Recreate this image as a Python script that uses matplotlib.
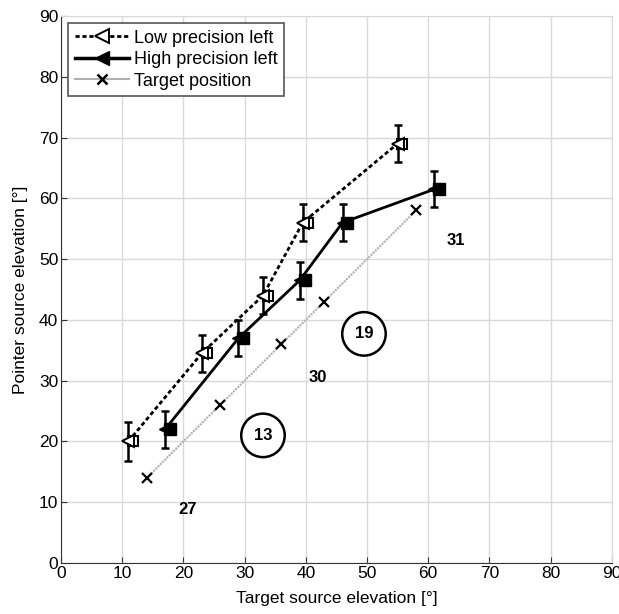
import matplotlib
matplotlib.use('Agg')
import matplotlib.pyplot as plt
from matplotlib.transforms import ScaledTranslation

plt.rcParams['font.family'] = ['Liberation Sans', 'DejaVu Sans']

# low precision left
low_x = [11, 23, 33, 39.5, 55]
low_y = [20, 34.5, 44, 56, 69]
low_err = [3.2, 3.0, 3.0, 3.0, 3.0]

# high precision left
high_x = [17, 29, 39, 46, 61]
high_y = [22, 37, 46.5, 56, 61.5]
high_err = [3.0, 3.0, 3.0, 3.0, 3.0]

# target positions
tgt_x = [14, 26, 36, 43, 58]
tgt_y = [14, 26, 36, 43, 58]

# annotations
labels = ['27', '13', '30', '19', '31']
label_x = [20.7, 33, 42, 49.5, 64.5]
label_y = [8.8, 21, 30.5, 37.7, 53]
circled = [False, True, False, True, False]

fig = plt.figure(figsize=(6.19, 6.14), dpi=100)
ax = fig.add_axes([0.0985, 0.083, 0.89, 0.891])

# square part of the combined marker sits slightly right of the triangle
shift = ScaledTranslation(3.5 / 72, 0, fig.dpi_scale_trans)

ax.plot(tgt_x, tgt_y, color='#b0b0b0', lw=1.5, ls=(0, (1, 0.5)), zorder=2)
ax.plot(tgt_x, tgt_y, ls='none', marker='x', ms=7, mew=1.6, color='black', zorder=3)
l_tgt, = ax.plot([], [], color='#b0b0b0', lw=1.5, marker='x', ms=7, mew=1.8,
                 mec='black', label='Target position')

ax.errorbar(low_x, low_y, yerr=low_err, fmt='none', ecolor='black', elinewidth=1.8,
            capsize=3, capthick=1.8, zorder=4)
ax.plot(low_x, low_y, color='black', lw=2, ls=(0, (1.5, 1)), zorder=4)
ax.plot(low_x, low_y, ls='none', marker='s', ms=7, mfc='white', mec='black', mew=1.5,
        transform=ax.transData + shift, zorder=5)
ax.plot(low_x, low_y, ls='none', marker='<', ms=9, mfc='white', mec='black', mew=1.4, zorder=6)
l_low, = ax.plot([], [], color='black', lw=2, ls=(0, (1.5, 1)), marker='<', ms=10,
                 mfc='white', mec='black', mew=1.4, label='Low precision left')

ax.errorbar(high_x, high_y, yerr=high_err, fmt='none', ecolor='black', elinewidth=1.8,
            capsize=3, capthick=1.8, zorder=4)
ax.plot(high_x, high_y, color='black', lw=2, zorder=4)
ax.plot(high_x, high_y, ls='none', marker='s', ms=8, color='black',
        transform=ax.transData + shift, zorder=5)
ax.plot(high_x, high_y, ls='none', marker='<', ms=9, color='black', zorder=6)
l_high, = ax.plot([], [], color='black', lw=2.5, marker='<', ms=10,
                  label='High precision left')

for t, x, y, c in zip(labels, label_x, label_y, circled):
    if c:
        ax.text(x, y, t, ha='center', va='center', fontsize=12, fontweight='bold',
                bbox=dict(boxstyle='circle,pad=0.75', fc='white', ec='black', lw=1.8), zorder=7)
    else:
        ax.text(x, y, t, ha='center', va='center', fontsize=12, fontweight='bold', zorder=7)

ax.set_xlim(0, 90)
ax.set_ylim(0, 90)
ax.set_xticks(range(0, 91, 10))
ax.set_yticks(range(0, 91, 10))
ax.grid(True, color='#d9d9d9', lw=1)
ax.set_axisbelow(True)
for s in ['top', 'right']:
    ax.spines[s].set_color('#d9d9d9')
for s in ['left', 'bottom']:
    ax.spines[s].set_color('#333333')
ax.tick_params(labelsize=12.5, direction='in', length=4, color='#333333', pad=2)
ax.set_xlabel('Target source elevation [°]', fontsize=12.5, labelpad=7)
ax.set_ylabel('Pointer source elevation [°]', fontsize=12.5, labelpad=8)

leg = ax.legend(handles=[l_low, l_high, l_tgt], loc='upper left', fontsize=13,
                fancybox=False, edgecolor='#555555', framealpha=1, handlelength=3,
                borderaxespad=0.4, borderpad=0.35, labelspacing=0.25, handletextpad=0.3)
leg.get_frame().set_linewidth(1.2)

fig.savefig('out.png', dpi=100)
